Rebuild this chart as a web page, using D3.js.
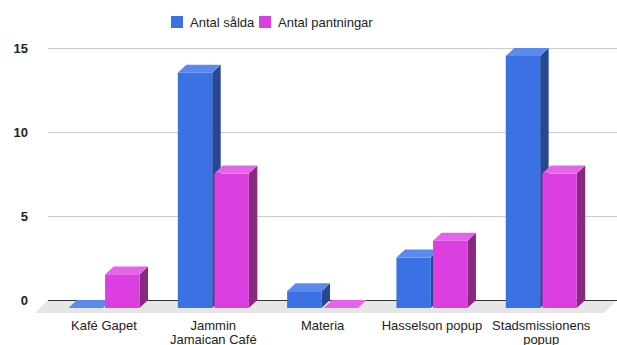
<!DOCTYPE html>
<html><head><meta charset="utf-8">
<script src="https://cdn.jsdelivr.net/npm/d3@7"></script>
<style>body{margin:0;background:#fff}svg{display:block;font-family:Arial,"Liberation Sans",sans-serif}</style>
</head><body><svg id="c" width="617" height="345"></svg>
<script>
const title = "Koppar sålda (antal sålda och antal returnerade)";
const categories = ["Kafé Gapet", "Jammin Jamaican Café", "Materia", "Hasselson popup", "Stadsmissionens popup"];
const categoryLines = [["Kafé Gapet"], ["Jammin", "Jamaican Café"], ["Materia"], ["Hasselson popup"], ["Stadsmissionens", "popup"]];
const seriesNames = ["Antal sålda", "Antal pantningar"];
const antalSalda = [0, 14, 1, 3, 15];
const antalPantningar = [2, 8, 0, 4, 8];
const yTicks = [0, 5, 10, 15];

const svg = d3.select("#c");
const W = 617;
const dx = 8.5, dy = 8;
const left = 48;
const baseBack = 300;

const x = d3.scaleBand().domain(categories).range([49.35, 595.9]).padding(0);
const xSub = d3.scaleBand().domain(seriesNames).range([-35.5, 35.5]).paddingInner(0.06);
const yBack = d3.scaleLinear().domain([0, 15]).range([baseBack, baseBack - 252]);
const yFront = v => yBack(v) + dy;

const colors = {
  "Antal sålda": {front: "#3b71e2", top: "#5b8aea", side: "#254890"},
  "Antal pantningar": {front: "#dc3fdf", top: "#e365e8", side: "#86297f"}
};

// title (clipped at top as in reference)
svg.append("text").attr("x", 58.5).attr("y", -4).attr("font-size", 16).attr("font-weight", "bold")
  .attr("fill", "#222").text(title);

// legend
const legend = [{name: seriesNames[0], x: 171}, {name: seriesNames[1], x: 259}];
legend.forEach(l => {
  svg.append("rect").attr("x", l.x).attr("y", 16).attr("width", 12).attr("height", 12)
    .attr("fill", colors[l.name].front);
  svg.append("text").attr("x", l.x + 19).attr("y", 26.5).attr("font-size", 13).attr("fill", "#222").text(l.name);
});

// floor
const floorDepth = 13;
svg.append("path").attr("d", `M${left},${baseBack} L${W},${baseBack} L${W - floorDepth},${baseBack + floorDepth} L${left - floorDepth},${baseBack + floorDepth} Z`)
  .attr("fill", "#e6e6e6");

// gridlines + y labels
const yAxis = d3.axisLeft(yBack).tickValues(yTicks).tickSize(-(W - left)).tickPadding(20).tickFormat(d3.format("d"));
const gA = svg.append("g").attr("transform", `translate(${left},0)`).call(yAxis);
gA.select(".domain").remove();
gA.selectAll(".tick line").attr("stroke", d => d === 0 ? "#333" : "#cccccc").attr("stroke-width", 1);
gA.selectAll(".tick text").attr("font-size", 13).attr("font-weight", "bold").attr("fill", "#222")
  .attr("font-family", "Arial, 'Liberation Sans', sans-serif");

// bars
const data = [];
categories.forEach((c, i) => {
  data.push({cat: c, s: seriesNames[0], v: antalSalda[i]});
  data.push({cat: c, s: seriesNames[1], v: antalPantningar[i]});
});
const bars = svg.append("g");
data.forEach(d => {
  const x0 = x(d.cat) + x.bandwidth() / 2 + xSub(d.s);
  const x1 = x0 + xSub.bandwidth();
  const yt = yFront(d.v), yb = yFront(0);
  const col = colors[d.s];
  const g = bars.append("g");
  g.append("path").attr("d", `M${x1},${yb} L${x1 + dx},${yb - dy} L${x1 + dx},${yt - dy} L${x1},${yt} Z`).attr("fill", col.side);
  g.append("path").attr("d", `M${x0},${yt} L${x0 + dx},${yt - dy} L${x1 + dx},${yt - dy} L${x1},${yt} Z`).attr("fill", col.top);
  if (yb - yt > 0) g.append("rect").attr("x", x0).attr("y", yt).attr("width", x1 - x0).attr("height", yb - yt).attr("fill", col.front);
});

// x labels
categories.forEach((c, i) => {
  const cx = x(c) + x.bandwidth() / 2;
  const t = svg.append("text").attr("text-anchor", "middle").attr("font-size", 13).attr("fill", "#222");
  categoryLines[i].forEach((line, j) => {
    t.append("tspan").attr("x", cx).attr("y", 330 + j * 13.5).text(line);
  });
});
</script></body></html>
